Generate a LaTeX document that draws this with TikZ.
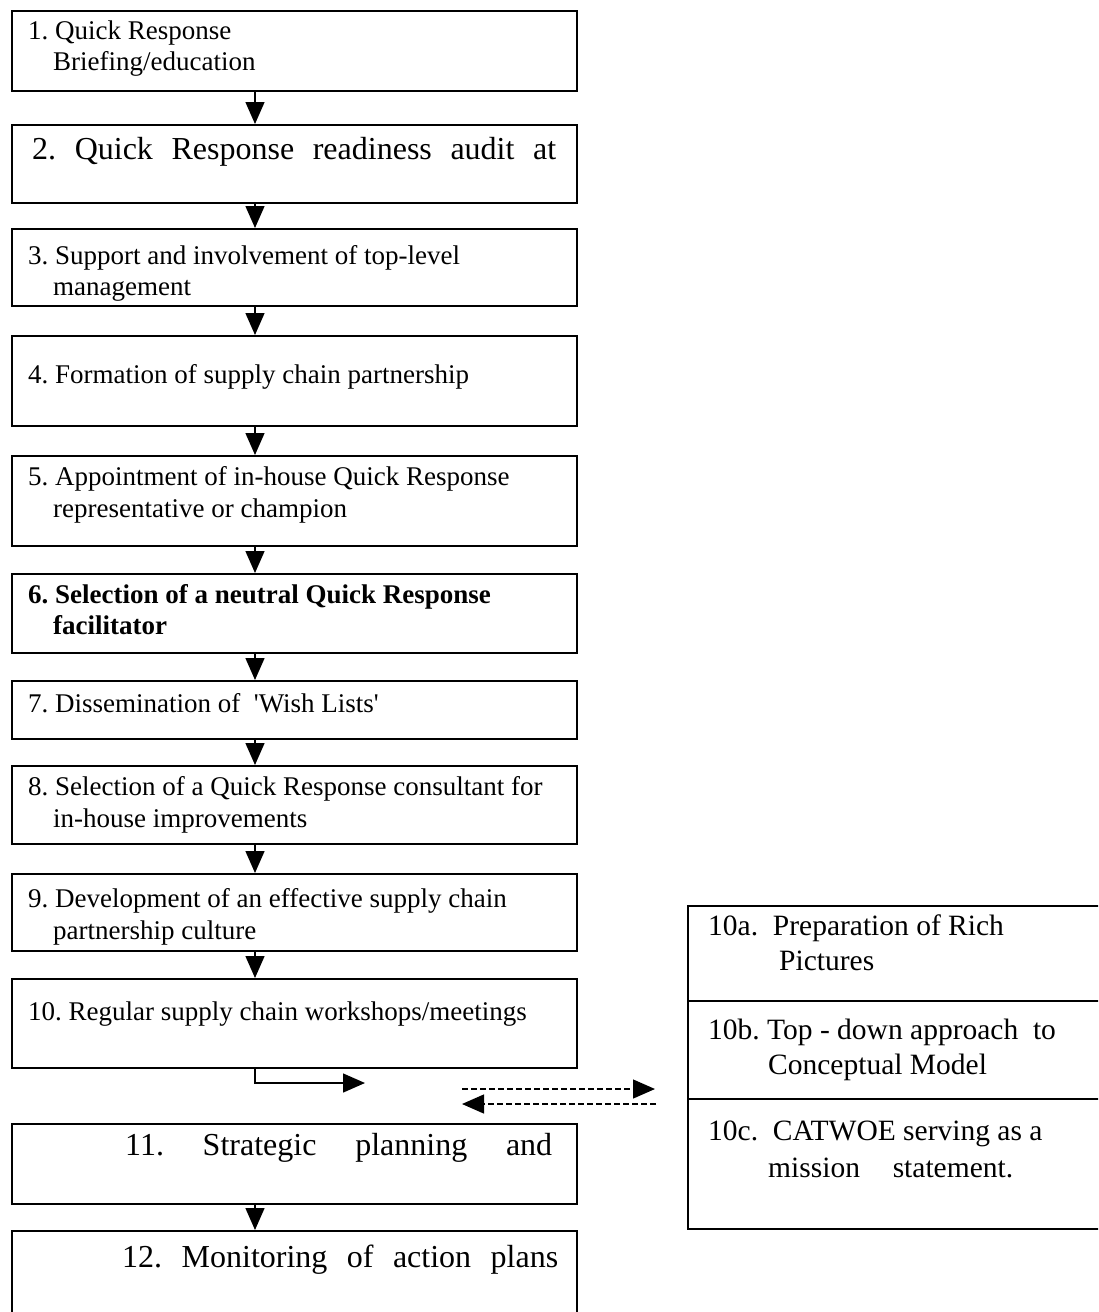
\documentclass[tikz,border=0pt]{standalone}
\usepackage{fontspec}
\setmainfont{Liberation Serif}
\usetikzlibrary{arrows.meta}
\frenchspacing
\begin{document}
\begin{tikzpicture}[x=1pt,y=-1pt,
  box/.style={draw, line width=1.7pt, rectangle, inner sep=0pt, anchor=north west, minimum width=565pt},
  txt/.style={anchor=mid west, inner sep=0pt, font=\fontsize{27}{31}\selectfont},
  rtxt/.style={anchor=mid west, inner sep=0pt, font=\fontsize{29.5}{34}\selectfont},
  bigtxt/.style={anchor=mid west, inner sep=0pt, font=\fontsize{32}{36}\selectfont},
  flow/.style={-{Triangle[length=22pt,width=19pt]}, line width=1.4pt},
  dflow/.style={-{Triangle[length=22pt,width=19pt]}, line width=1.3pt, dash pattern=on 6pt off 3pt}
]
\useasboundingbox (0,0) rectangle (1098,1312);
\clip (0,0) rectangle (1098,1312);
\fill[white] (0,0) rectangle (1098,1312);

% left boxes
\node[box, minimum height=80pt] (b1) at (11,10) {};
\node[box, minimum height=78pt] (b2) at (11,124) {};
\node[box, minimum height=77pt] (b3) at (11,228) {};
\node[box, minimum height=90pt] (b4) at (11,335) {};
\node[box, minimum height=90pt] (b5) at (11,455) {};
\node[box, minimum height=79pt] (b6) at (11,573) {};
\node[box, minimum height=58pt] (b7) at (11,680) {};
\node[box, minimum height=78pt] (b8) at (11,765) {};
\node[box, minimum height=77pt] (b9) at (11,873) {};
\node[box, minimum height=89pt] (b10) at (11,978) {};
\node[box, minimum height=80pt] (b11) at (11,1123) {};
\node[box, minimum height=110pt] (b12) at (11,1230) {};

% right box
\node[box, minimum width=430pt, minimum height=323pt] (r) at (687,905) {};
\coordinate (d1) at (687,1001);
\coordinate (d2) at (687,1099);
\draw[line width=1.7pt] (d1) -- ++(430,0);
\draw[line width=1.7pt] (d2) -- ++(430,0);

% texts
\node[txt] (t1a) at (28,37) {1. Quick Response};
\node[txt] (t1b) at (53,68) {Briefing/education};
\node[bigtxt] (t2) at (32,157) {\makebox[524pt][s]{2. Quick Response readiness audit at}};
\node[txt] (t3a) at (28,262) {3. Support and involvement of top-level};
\node[txt] (t3b) at (53,293) {management};
\node[txt] (t4) at (28,381) {4. Formation of supply chain partnership};
\node[txt] (t5a) at (28,483) {5. Appointment of in-house Quick Response};
\node[txt] (t5b) at (53,515) {representative or champion};
\node[txt, font=\fontsize{27}{31}\selectfont\bfseries] (t6a) at (28,601) {6. Selection of a neutral Quick Response};
\node[txt, font=\fontsize{27}{31}\selectfont\bfseries] (t6b) at (53,632) {facilitator};
\node[txt] (t7) at (28,710) {7. Dissemination of \ \textquotesingle Wish Lists\textquotesingle};
\node[txt] (t8a) at (28,793) {8. Selection of a Quick Response consultant for};
\node[txt] (t8b) at (53,825) {in-house improvements};
\node[txt] (t9a) at (28,905) {9. Development of an effective supply chain};
\node[txt] (t9b) at (53,937) {partnership culture};
\node[txt] (t10) at (28,1018) {10. Regular supply chain workshops/meetings};
\node[bigtxt] (t11) at (125,1153) {\makebox[427pt][s]{11. Strategic planning and}};
\node[bigtxt] (t12) at (122,1265) {\makebox[436pt][s]{12. Monitoring of action plans}};

\node[rtxt] (ra1) at (708,933) {10a. \ Preparation of Rich};
\node[rtxt] (ra2) at (779,968) {Pictures};
\node[rtxt] (rb1) at (708,1037) {10b. Top - down approach \ to};
\node[rtxt] (rb2) at (768,1072) {Conceptual Model};
\node[rtxt] (rc1) at (708,1138) {10c. \ CATWOE serving as a};
\node[rtxt] (rc2) at (768,1175) {mission \hspace{18pt} statement.};

% vertical arrows
\coordinate (ax) at (255,0);
\foreach \a/\b in {b1/b2,b2/b3,b3/b4,b4/b5,b5/b6,b6/b7,b7/b8,b8/b9,b9/b10,b11/b12}
  \draw[flow] (\a.south -| ax) -- (\b.north -| ax);

% elbow arrow from 10
\coordinate (e1) at (255,1083);
\coordinate (e2) at (365,1083);
\draw[flow] (b10.south -| ax) -- (e1) -- (e2);

% dashed arrows
\coordinate (da) at (462,1089);
\coordinate (db) at (655,1089);
\coordinate (dc) at (656,1104);
\coordinate (dd) at (462,1104);
\draw[dflow] (da) -- (db);
\draw[dflow] (dc) -- (dd);
\end{tikzpicture}
\end{document}
